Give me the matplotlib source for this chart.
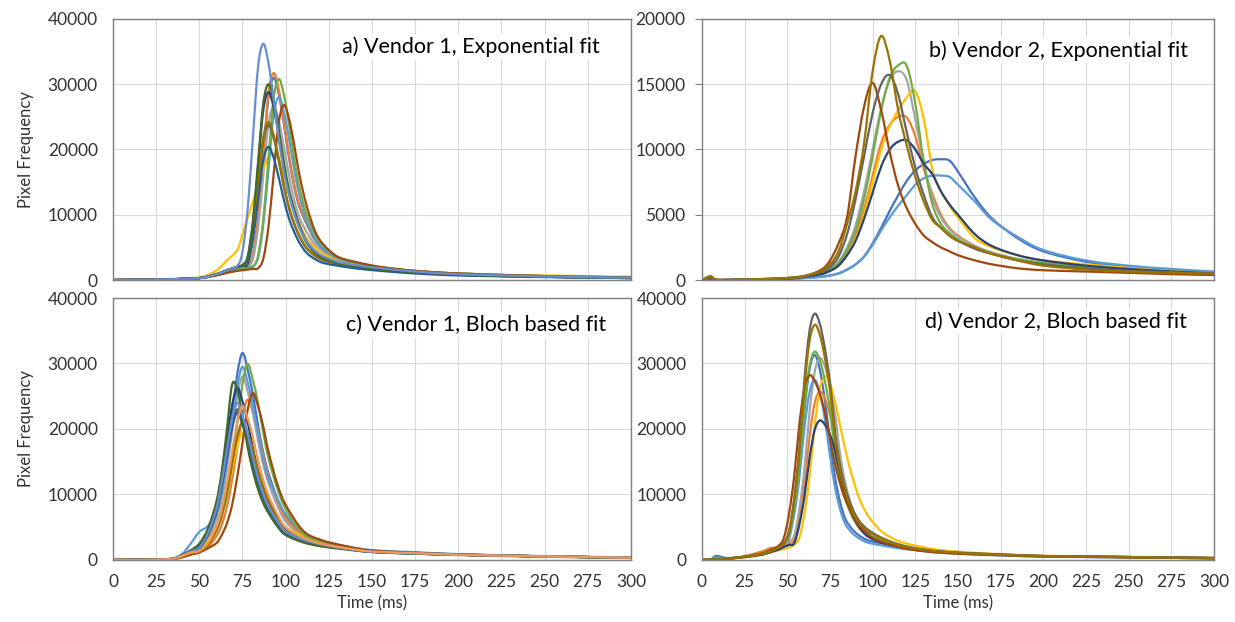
import matplotlib
matplotlib.use("Agg")
import matplotlib.pyplot as plt
from matplotlib.path import Path
from matplotlib.patches import PathPatch

plt.rcParams['font.family'] = ['Lato', 'DejaVu Sans']

# ---------------- Panel a: Vendor 1, Exponential fit ----------------
t_a = [0, 30, 50, 60, 66, 72, 75, 78, 81, 84, 87, 90, 93, 96, 99, 102, 105, 108, 112, 117, 122, 130, 140, 155, 175, 200, 250, 300]
a_4472C4 = [0,100,300,900,1400,1800,2000,2200,3720,9300,18600,27900,31000,28520,23870,18600,14260,11160,8680,6100,4600,3000,2400,1800,1300,900,550,350]
a_ED7D31 = [0,100,300,900,1400,1800,2000,2200,3800,9510,19020,28530,31700,29160,24410,19020,14580,11410,8880,6300,4800,3200,2500,1900,1400,1000,600,400]
a_A5A5A5 = [0,100,300,900,1400,1800,2000,2100,3180,7950,15900,23850,26500,24380,20410,15900,12190,9540,7420,5400,4200,3000,2400,1800,1300,900,550,350]
a_FFC000 = [0,150,400,1500,3000,4600,7000,9500,12000,14500,17000,18800,19300,18500,16000,13000,10500,8500,6500,5000,4000,3000,2500,1900,1400,1000,700,500]
a_5B9BD5 = [0,100,300,800,1200,1600,1800,2000,2100,3360,8400,16800,25200,28000,25760,21560,16800,12880,9240,6440,4800,3300,2600,1900,1400,1000,600,400]
a_70AD47 = [0,100,300,800,1200,1500,1700,1900,2000,3700,9240,18480,27720,30800,28340,23720,18480,14170,10160,7080,5200,3500,2700,2000,1400,1000,600,400]
a_264478 = [0,100,300,900,1500,2000,2300,3460,8640,17280,25920,28800,26500,22180,17280,13250,10370,8060,5800,4200,3300,2600,2100,1600,1200,800,500,300]
a_9E480E = [0,100,300,700,1100,1400,1500,1600,1700,1800,3220,8040,16080,24120,26800,24660,20640,16080,11520,7500,5400,3600,2800,2000,1400,1000,600,400]
a_636363 = [0,100,300,900,1500,2000,2200,2840,7110,14220,21330,23700,21800,18250,14220,10900,8530,6640,4900,3700,3000,2500,2000,1600,1200,800,500,300]
a_997300 = [0,100,300,900,1500,2000,2300,2900,7260,14520,21780,24200,22260,18630,14520,11130,8710,6780,5000,3800,3100,2500,2000,1600,1200,800,500,300]
a_255E91 = [0,100,300,900,1500,2000,2200,2450,6120,12240,18360,20400,18770,15710,12240,9380,7340,5710,4200,3200,2600,2200,1800,1400,1000,700,450,300]
a_43682B = [0,100,300,900,1500,2000,2300,3600,9000,18000,27000,30000,27600,23100,18000,13800,10800,8400,6000,4300,3300,2600,2100,1600,1200,800,500,300]
a_698ED0 = [0,100,300,900,1500,2170,4340,10860,21720,32580,36200,33300,27870,21720,16650,13030,10140,8000,6000,4500,3600,2800,2300,1800,1300,900,550,350]

# ---------------- Panel b: Vendor 2, Exponential fit ----------------
t_b = [0, 5, 10, 30, 50, 60, 70, 75, 80, 85, 90, 95, 100, 105, 110, 115, 120, 125, 130, 135, 140, 145, 150, 160, 170, 185, 200, 225, 250, 275, 300]
b_4472C4 = [0,50,0,30,80,150,250,350,500,800,1200,1800,2800,4000,5300,6500,7600,8400,8900,9200,9250,9150,8300,6300,4700,3200,2200,1400,1000,750,550]
b_ED7D31 = [0,50,0,50,100,250,500,800,1300,2200,3500,5400,8000,10500,11900,12500,12450,11000,8500,6600,5000,4000,3400,2600,2100,1600,1300,1000,800,650,500]
b_A5A5A5 = [0,50,0,50,150,300,550,850,1400,2500,4200,6800,10000,13200,15300,16000,15300,12300,9000,6300,4800,3900,3300,2600,2100,1600,1300,1000,800,650,550]
b_FFC000 = [0,50,0,50,100,250,450,700,1100,1900,3100,5000,7500,10000,11800,13000,14000,14450,12300,8500,6800,5700,4800,3200,2500,1900,1500,1200,950,750,600]
b_5B9BD5 = [0,50,0,30,80,150,250,350,500,800,1200,1800,2700,3800,4800,5700,6500,7300,7800,8000,8000,7900,7300,6000,4600,3300,2300,1500,1100,850,650]
b_70AD47 = [0,50,0,50,150,300,500,800,1300,2300,3800,6200,9500,13000,15500,16450,16400,13500,9000,5800,4300,3600,3100,2400,2000,1600,1300,1000,800,650,550]
b_264478 = [0,50,0,50,100,250,450,700,1100,1900,3000,4700,6700,8700,10000,10600,10700,10000,8900,8100,6800,5800,5000,3500,2600,1900,1500,1100,850,650,500]
b_9E480E = [0,150,0,50,150,300,800,1500,2800,4800,9500,13300,15100,13000,9800,7200,5500,4300,3400,2900,2500,2200,1900,1500,1200,900,750,650,550,450,380]
b_636363 = [0,100,0,50,150,300,600,1000,1800,3500,6200,9500,12800,15000,15700,14200,11300,8600,6500,4800,4000,3400,3000,2400,2000,1500,1200,900,700,600,500]
b_997300 = [0,300,0,50,150,300,700,1200,2200,4300,6800,10500,16000,18700,16800,13000,10300,7900,6000,4600,4000,3400,3000,2500,2000,1500,1100,800,650,550,480]

# ---------------- Panel c: Vendor 1, Bloch based fit ----------------
t_c = [0, 25, 35, 40, 45, 50, 55, 60, 63, 66, 69, 72, 75, 78, 81, 84, 87, 90, 95, 100, 110, 120, 135, 150, 175, 200, 250, 300]
c_4472C4 = [0,50,200,600,1100,1900,3480,6950,10430,15800,22120,28440,31600,29070,25280,20540,16430,13270,9480,6640,3800,2700,1900,1400,1100,850,550,350]
c_ED7D31 = [0,50,150,500,900,1100,1960,3680,5390,8090,12250,17150,22050,24500,22540,19600,15930,12740,9070,6370,3800,2800,1900,1400,1100,850,550,350]
c_A5A5A5 = [0,50,200,600,1100,1680,3080,6160,9240,14000,19600,25200,28000,25760,22400,18200,14560,11760,8400,5880,3500,2600,1800,1300,1050,800,550,350]
c_FFC000 = [0,50,200,700,1300,2000,3000,5000,7000,10000,13800,17500,19400,18200,16000,13500,11200,9300,6800,5000,3600,2600,1800,1300,1050,800,550,350]
c_5B9BD5 = [0,50,250,900,2500,4300,5200,7500,10500,14750,20650,26550,29500,27140,23600,19180,15340,12390,9500,7000,4200,3000,2100,1500,1200,900,600,400]
c_70AD47 = [0,50,150,500,900,1200,2390,4490,6580,9870,14950,20930,26910,29900,27510,23920,19440,15550,11060,7770,4000,2900,2000,1400,1100,850,550,350]
c_264478 = [0,50,200,700,1300,2100,4470,8680,13150,18410,23670,26300,24200,21040,17100,13680,11050,8940,6580,4730,3200,2400,1700,1250,1000,800,550,350]
c_9E480E = [0,50,150,400,800,1200,1800,2600,3830,5610,8420,12750,17850,22950,25500,23460,20400,16580,11730,8420,4500,3100,2100,1450,1100,850,550,350]
c_636363 = [0,50,200,700,1300,1840,3910,7590,11500,16100,20700,23000,21160,18400,14950,11960,9660,7820,5750,4140,3000,2300,1700,1250,1000,800,550,350]
c_997300 = [0,50,200,600,1100,1260,2310,4620,6930,10500,14700,18900,21000,19320,16800,13650,10920,8820,6300,4410,3200,2400,1700,1250,1000,800,550,350]
c_255E91 = [0,50,200,700,1300,1800,3830,7430,11250,15750,20250,22500,20700,18000,14630,11700,9450,7650,5630,4050,3000,2300,1700,1250,1000,800,550,350]
c_43682B = [0,50,250,800,1500,2500,4800,9000,13500,20000,26800,26000,21800,17200,13600,10800,8700,7200,5200,3800,2700,2100,1600,1200,950,750,500,300]
c_698ED0 = [0,50,200,700,1300,1920,4080,7920,12000,16800,21600,24000,22080,19200,15600,12480,10080,8160,6000,4320,3100,2400,1700,1250,1000,800,550,350]
c_F1975A = [0,50,200,600,1100,1410,2590,5170,7760,11750,16450,21150,23500,21620,18800,15280,12220,9870,7050,4940,3400,2500,1800,1300,1050,800,550,350]

# ---------------- Panel d: Vendor 2, Bloch based fit ----------------
t_d = [0, 5, 8, 11, 15, 25, 35, 40, 45, 48, 51, 54, 57, 60, 63, 66, 69, 72, 75, 78, 81, 84, 88, 92, 96, 100, 106, 115, 125, 140, 160, 180, 200, 250, 300]
d_4472C4 = [0,100,600,500,300,500,900,1400,2000,2600,3760,7830,14090,22850,29110,31300,29110,24410,18150,12520,8760,6260,4700,3760,3130,2820,2500,2000,1600,1200,900,700,550,400,250]
d_ED7D31 = [0,50,100,150,200,600,1300,1800,1900,2200,2600,3080,6430,11570,18760,23900,25700,24670,22100,18500,13360,9770,6680,4880,3860,3210,2700,2200,1700,1250,950,750,600,450,300]
d_A5A5A5 = [0,50,100,150,200,500,900,1300,1800,2300,2900,3700,7700,13860,22480,28640,30800,29570,26490,22180,16020,11700,8010,5850,4620,3850,3200,2400,1800,1300,1000,800,600,450,300]
d_FFC000 = [0,50,100,150,200,400,800,1100,1500,1700,1900,2300,3360,7000,12600,20440,26040,28000,27000,24000,20500,16800,12800,9500,7300,5800,4200,2900,2200,1500,1100,850,650,450,300]
d_5B9BD5 = [0,80,400,350,250,500,900,1400,2000,2600,3300,6880,12380,20080,25580,27500,25580,21450,15950,11000,7700,5500,4130,3300,2750,2480,2200,1800,1500,1100,850,650,500,400,250]
d_70AD47 = [0,50,100,150,200,500,900,1300,1900,2500,3820,7950,14310,23210,29570,31800,30530,27350,22900,16540,12080,9220,6680,5090,4130,3500,3000,2200,1700,1250,950,750,600,450,300]
d_264478 = [0,50,100,150,200,450,800,1200,1600,2000,2300,2560,5330,9590,15550,19810,21300,20660,19170,16610,13210,10010,7030,5110,3830,3200,2560,2100,1650,1250,950,750,600,450,300]
d_9E480E = [0,50,100,150,200,500,1000,1500,2200,3380,7050,12690,20590,26230,28200,27350,25380,22560,18610,14660,11560,9310,7050,5360,4230,3380,2700,2000,1500,1100,850,700,550,400,250]
d_636363 = [0,50,100,150,200,500,900,1300,1900,2500,4510,9400,16920,27450,34970,37600,36100,32340,27070,19550,14290,10900,7900,6020,4890,4140,3300,2400,1800,1300,1000,800,600,450,300]
d_997300 = [0,50,100,150,200,500,900,1300,1900,2500,4310,8980,16160,26210,33390,35900,34460,30870,25850,18670,13640,10410,7540,5740,4670,3950,3200,2300,1750,1250,950,750,600,450,300]

x_ticks = [0, 25, 50, 75, 100, 125, 150, 175, 200, 225, 250, 275, 300]

panels = [
    dict(pos=[0.0915, 0.5498, 0.4194, 0.4197], t=t_a, ymax=40000, ystep=10000,
         label="a) Vendor 1, Exponential fit", lx=0.442, ly=0.893,
         series=[("#4472C4", a_4472C4), ("#ED7D31", a_ED7D31), ("#A5A5A5", a_A5A5A5),
                 ("#FFC000", a_FFC000), ("#5B9BD5", a_5B9BD5), ("#70AD47", a_70AD47),
                 ("#264478", a_264478), ("#9E480E", a_9E480E), ("#636363", a_636363),
                 ("#997300", a_997300), ("#255E91", a_255E91), ("#43682B", a_43682B),
                 ("#698ED0", a_698ED0)],
         xlabels=False, ylabel=True, yticks_marks=False),
    dict(pos=[0.5684, 0.5498, 0.4146, 0.4197], t=t_b, ymax=20000, ystep=5000,
         label="b) Vendor 2, Exponential fit", lx=0.443, ly=0.88,
         series=[("#4472C4", b_4472C4), ("#ED7D31", b_ED7D31), ("#A5A5A5", b_A5A5A5),
                 ("#FFC000", b_FFC000), ("#5B9BD5", b_5B9BD5), ("#70AD47", b_70AD47),
                 ("#264478", b_264478), ("#9E480E", b_9E480E), ("#636363", b_636363),
                 ("#997300", b_997300)],
         xlabels=False, ylabel=False, yticks_marks=True),
    dict(pos=[0.0915, 0.0997, 0.4194, 0.4212], t=t_c, ymax=40000, ystep=10000,
         label="c) Vendor 1, Bloch based fit", lx=0.45, ly=0.897,
         series=[("#4472C4", c_4472C4), ("#ED7D31", c_ED7D31), ("#A5A5A5", c_A5A5A5),
                 ("#FFC000", c_FFC000), ("#5B9BD5", c_5B9BD5), ("#70AD47", c_70AD47),
                 ("#264478", c_264478), ("#9E480E", c_9E480E), ("#636363", c_636363),
                 ("#997300", c_997300), ("#255E91", c_255E91), ("#43682B", c_43682B),
                 ("#698ED0", c_698ED0), ("#F1975A", c_F1975A)],
         xlabels=True, ylabel=True, yticks_marks=False),
    dict(pos=[0.5684, 0.0997, 0.4146, 0.4212], t=t_d, ymax=40000, ystep=10000,
         label="d) Vendor 2, Bloch based fit", lx=0.435, ly=0.91,
         series=[("#4472C4", d_4472C4), ("#ED7D31", d_ED7D31), ("#A5A5A5", d_A5A5A5),
                 ("#FFC000", d_FFC000), ("#5B9BD5", d_5B9BD5), ("#70AD47", d_70AD47),
                 ("#264478", d_264478), ("#9E480E", d_9E480E), ("#636363", d_636363),
                 ("#997300", d_997300)],
         xlabels=True, ylabel=False, yticks_marks=False),
]


def smoothed_path(xs, ys):
    """Excel-style smoothed line through the given points (Catmull-Rom as Bezier)."""
    n = len(xs)
    verts = [(xs[0], ys[0])]
    codes = [Path.MOVETO]
    for i in range(n - 1):
        x0, y0 = (xs[i - 1], ys[i - 1]) if i > 0 else (xs[i], ys[i])
        x1, y1 = xs[i], ys[i]
        x2, y2 = xs[i + 1], ys[i + 1]
        x3, y3 = (xs[i + 2], ys[i + 2]) if i + 2 < n else (x2, y2)
        c1 = (x1 + (x2 - x0) / 6.0, y1 + (y2 - y0) / 6.0)
        c2 = (x2 - (x3 - x1) / 6.0, y2 - (y3 - y1) / 6.0)
        verts += [c1, c2, (x2, y2)]
        codes += [Path.CURVE4, Path.CURVE4, Path.CURVE4]
    return Path(verts, codes)


fig = plt.figure(figsize=(12.35, 6.22), dpi=100)
tick_color = "#333333"

for p in panels:
    ax = fig.add_axes(p["pos"])
    for color, vals in p["series"]:
        patch = PathPatch(smoothed_path(p["t"], vals), facecolor="none", edgecolor=color,
                          lw=1.6, joinstyle="round", capstyle="round")
        ax.add_patch(patch)
    ax.set_xlim(0, 300)
    ax.set_ylim(0, p["ymax"])
    ax.set_xticks(x_ticks)
    ax.set_yticks(list(range(0, p["ymax"] + 1, p["ystep"])))
    ax.grid(True, color="#D9D9D9", lw=0.8)
    ax.set_axisbelow(True)
    for s in ax.spines.values():
        s.set_color("#7F7F7F")
        s.set_linewidth(1.0)
    ax.tick_params(axis="x", length=0, pad=10, labelsize=12.5, labelcolor=tick_color)
    if p["yticks_marks"]:
        ax.tick_params(axis="y", length=5, width=0.8, color="#7F7F7F", pad=7,
                       labelsize=12.5, labelcolor=tick_color)
    else:
        ax.tick_params(axis="y", length=0, pad=11, labelsize=12.5, labelcolor=tick_color)
    if not p["xlabels"]:
        ax.set_xticklabels([])
    else:
        ax.set_xlabel("Time (ms)", fontsize=12, color=tick_color, labelpad=4)
    if p["ylabel"]:
        ax.set_ylabel("Pixel Frequency", fontsize=12, color=tick_color, labelpad=10)
    ax.text(p["lx"], p["ly"], p["label"], transform=ax.transAxes, fontsize=15.5,
            ha="left", va="center", color="#000000",
            bbox=dict(facecolor="white", edgecolor="none", pad=2))

fig.savefig("out.png", dpi=100)
